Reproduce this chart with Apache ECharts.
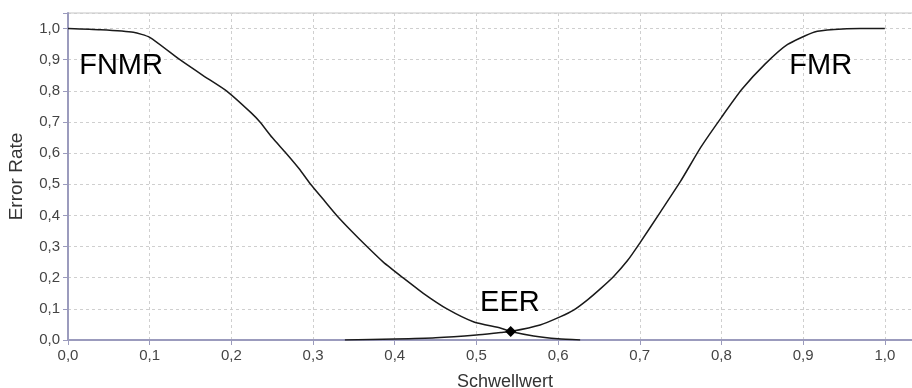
<!DOCTYPE html>
<html>
<head>
<meta charset="utf-8">
<script src="https://cdn.jsdelivr.net/npm/echarts@6/dist/echarts.min.js"></script>
<style>
  html, body { margin: 0; padding: 0; background: #fff; }
  #chart { width: 912px; height: 388px; }
</style>
</head>
<body>
<div id="chart"></div>
<script>
// Schwellwert (threshold) vs. error rate
const fnmrX = [0, 0.04, 0.08, 0.1, 0.137, 0.165, 0.194, 0.224, 0.235, 0.25, 0.267, 0.283, 0.297, 0.313, 0.329, 0.347, 0.366, 0.386, 0.41, 0.435, 0.464, 0.497, 0.53, 0.542, 0.57, 0.6, 0.627];
const fnmrY = [1.0, 0.996, 0.988, 0.972, 0.9, 0.85, 0.8, 0.73, 0.7, 0.65, 0.6, 0.55, 0.5, 0.45, 0.4, 0.35, 0.3, 0.25, 0.2, 0.15, 0.1, 0.058, 0.038, 0.027, 0.013, 0.004, 0];

const fmrX = [0.339, 0.4, 0.45, 0.5, 0.53, 0.542, 0.578, 0.603, 0.619, 0.636, 0.652, 0.668, 0.685, 0.7, 0.725, 0.75, 0.775, 0.8, 0.825, 0.853, 0.881, 0.914, 0.938, 0.97, 1.0];
const fmrY = [0, 0.003, 0.007, 0.016, 0.024, 0.027, 0.048, 0.075, 0.096, 0.129, 0.165, 0.204, 0.255, 0.311, 0.41, 0.51, 0.62, 0.715, 0.805, 0.885, 0.949, 0.989, 0.997, 1.0, 1.0];

const eerPoint = [0.542, 0.027];

// text annotations (data coordinates)
const noteNames = ["FNMR", "FMR", "EER"];
const noteX = [0.065, 0.9215, 0.541];
const noteY = [0.881, 0.881, 0.119];

const zip = (xs, ys) => xs.map((x, i) => [x, ys[i]]);
const fmt = (v) => {
  const k = Math.round(v * 10);
  if (Math.abs(v * 10 - k) > 1e-6 || k > 10) return "";
  return (k / 10).toFixed(1).replace(".", ",");
};

const font = "Liberation Sans, Arial, sans-serif";
const axisColor = "#9b9bbd";

const chart = echarts.init(document.getElementById("chart"));
chart.setOption({
  animation: false,
  textStyle: { fontFamily: font },
  grid: {
    left: 68,
    right: -30,
    top: 13,
    bottom: 48,
    outerBoundsMode: "none",
    containLabel: false,
    show: true,
    borderColor: "#c4c4c4",
    borderWidth: 1,
  },
  xAxis: {
    type: "value",
    min: 0,
    max: 1.07,
    interval: 0.1,
    name: "Schwellwert",
    nameLocation: "middle",
    nameGap: 33,
    nameTextStyle: { fontSize: 18, color: "#333", fontFamily: font },
    axisLine: { lineStyle: { color: axisColor, width: 2 } },
    axisTick: { length: 5, lineStyle: { color: axisColor } },
    axisLabel: { formatter: fmt, fontSize: 15, color: "#444", margin: 8, fontFamily: font },
    splitLine: { lineStyle: { color: "#cfcfcf", type: [3, 3] } },
  },
  yAxis: {
    type: "value",
    min: 0,
    max: 1.05,
    interval: 0.1,
    name: "Error Rate",
    nameLocation: "middle",
    nameGap: 42,
    nameTextStyle: { fontSize: 19, color: "#333", fontFamily: font },
    axisLine: { show: true, lineStyle: { color: axisColor, width: 2 } },
    axisTick: { show: true, length: 5, lineStyle: { color: axisColor } },
    axisLabel: { formatter: fmt, fontSize: 15, color: "#444", margin: 8, fontFamily: font },
    splitLine: { lineStyle: { color: "#cfcfcf", type: [3, 3] } },
  },
  series: [
    {
      name: "FNMR",
      type: "line",
      data: zip(fnmrX, fnmrY),
      showSymbol: false,
      smooth: 0.2,
      lineStyle: { color: "#1a1a1a", width: 1.5 },
    },
    {
      name: "FMR",
      type: "line",
      data: zip(fmrX, fmrY),
      showSymbol: false,
      smooth: 0.2,
      lineStyle: { color: "#1a1a1a", width: 1.5 },
    },
    {
      name: "EER",
      type: "scatter",
      data: [eerPoint],
      symbol: "diamond",
      symbolSize: 11,
      itemStyle: { color: "#000", opacity: 1 },
      z: 5,
    },
    {
      name: "notes",
      type: "scatter",
      data: noteNames.map((n, i) => ({ name: n, value: [noteX[i], noteY[i]] })),
      symbolSize: 0,
      silent: true,
      itemStyle: { opacity: 1 },
      label: {
        show: true,
        position: "inside",
        formatter: "{b}",
        fontSize: 29,
        color: "#000",
        opacity: 1,
        textBorderWidth: 0,
        fontFamily: font,
      },
    },
  ],
});
</script>
</body>
</html>
